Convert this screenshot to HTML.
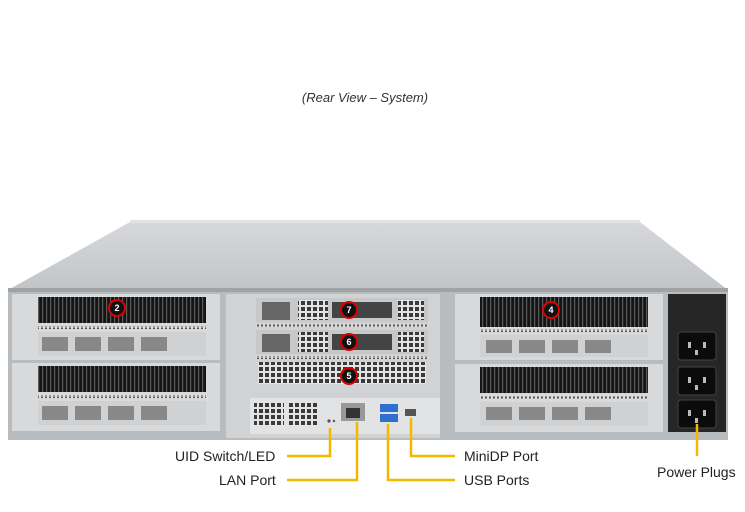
<!DOCTYPE html>
<html><head><style>
html,body{margin:0;padding:0;background:#fff;}
svg{display:block;font-family:"Liberation Sans",sans-serif;}
</style></head><body>
<svg width="745" height="512" viewBox="0 0 745 512">
<defs>
<linearGradient id="top" x1="0" y1="0" x2="0" y2="1"><stop offset="0" stop-color="#d6d8da"/><stop offset="1" stop-color="#c2c5c8"/></linearGradient>
<pattern id="fin" width="4" height="10" patternUnits="userSpaceOnUse"><rect width="4" height="10" fill="#151515"/><rect x="2" width="1.2" height="10" fill="#5a5a5a"/></pattern>
<pattern id="mesh" width="6" height="6" patternUnits="userSpaceOnUse"><rect width="6" height="6" fill="#e4e4e4"/><rect x="1" y="1" width="4" height="4" fill="#3a3a3a"/></pattern>
<pattern id="dots" width="4" height="3" patternUnits="userSpaceOnUse"><rect width="4" height="3" fill="#ddd"/><rect x="1" y="0.5" width="2" height="2" fill="#555"/></pattern>
</defs>
<text x="365" y="102" font-size="13" font-style="italic" fill="#333" text-anchor="middle">(Rear View – System)</text>
<polygon points="130,222 640,222 728,290 8,290" fill="url(#top)"/>
<rect x="130" y="220" width="510" height="3" fill="#e2e2e2"/>
<rect x="8" y="288" width="720" height="4" fill="#a0a3a6"/>
<rect x="8" y="292" width="720" height="148" fill="#b9bcbf"/>
<g>
<rect x="12" y="294" width="208" height="66" fill="#d7d9db"/>
<rect x="38" y="297" width="168" height="26" fill="url(#fin)"/>
<rect x="38" y="326" width="168" height="3" fill="url(#dots)"/>
<rect x="38" y="332" width="168" height="24" fill="#cfd1d3"/>
<rect x="42" y="337" width="26" height="14" fill="#888"/><rect x="75" y="337" width="26" height="14" fill="#888"/><rect x="108" y="337" width="26" height="14" fill="#888"/><rect x="141" y="337" width="26" height="14" fill="#888"/>
<rect x="12" y="363" width="208" height="68" fill="#d7d9db"/>
<rect x="38" y="366" width="168" height="26" fill="url(#fin)"/>
<rect x="38" y="395" width="168" height="3" fill="url(#dots)"/>
<rect x="38" y="401" width="168" height="24" fill="#cfd1d3"/>
<rect x="42" y="406" width="26" height="14" fill="#888"/><rect x="75" y="406" width="26" height="14" fill="#888"/><rect x="108" y="406" width="26" height="14" fill="#888"/><rect x="141" y="406" width="26" height="14" fill="#888"/>
</g>
<rect x="226" y="294" width="214" height="144" fill="#d0d2d4"/>
<rect x="256" y="298" width="172" height="24" fill="#c8c8c8"/>
<rect x="262" y="302" width="28" height="18" fill="#666"/><rect x="298" y="300" width="30" height="20" fill="url(#mesh)"/><rect x="332" y="302" width="60" height="16" fill="#444"/><rect x="398" y="300" width="26" height="20" fill="url(#mesh)"/>
<rect x="256" y="324" width="172" height="3" fill="url(#dots)"/>
<rect x="256" y="330" width="172" height="24" fill="#c8c8c8"/>
<rect x="262" y="334" width="28" height="18" fill="#666"/><rect x="298" y="332" width="30" height="20" fill="url(#mesh)"/><rect x="332" y="334" width="60" height="16" fill="#444"/><rect x="398" y="332" width="26" height="20" fill="url(#mesh)"/>
<rect x="256" y="356" width="172" height="3" fill="url(#dots)"/>
<rect x="258" y="362" width="168" height="22" fill="url(#mesh)"/>
<rect x="250" y="398" width="190" height="36" fill="#e2e3e4"/>
<rect x="254" y="403" width="30" height="24" fill="url(#mesh)"/><rect x="288" y="403" width="30" height="24" fill="url(#mesh)"/>
<rect x="341" y="403" width="24" height="18" fill="#999"/><rect x="346" y="408" width="14" height="10" fill="#333"/>
<rect x="380" y="404" width="18" height="8" fill="#2f6fd0"/><rect x="380" y="414" width="18" height="8" fill="#2f6fd0"/>
<rect x="405" y="409" width="11" height="7" fill="#555"/>
<circle cx="329" cy="421" r="1.6" fill="#555"/><circle cx="334" cy="421" r="1.2" fill="#555"/>
<rect x="455" y="294" width="208" height="66" fill="#d7d9db"/>
<rect x="480" y="297" width="168" height="30" fill="url(#fin)"/>
<rect x="480" y="329" width="168" height="3" fill="url(#dots)"/>
<rect x="480" y="335" width="168" height="22" fill="#cfd1d3"/>
<rect x="486" y="340" width="26" height="13" fill="#888"/><rect x="519" y="340" width="26" height="13" fill="#888"/><rect x="552" y="340" width="26" height="13" fill="#888"/><rect x="585" y="340" width="26" height="13" fill="#888"/>
<rect x="455" y="364" width="208" height="68" fill="#d7d9db"/>
<rect x="480" y="367" width="168" height="26" fill="url(#fin)"/>
<rect x="480" y="396" width="168" height="3" fill="url(#dots)"/>
<rect x="480" y="402" width="168" height="24" fill="#cfd1d3"/>
<rect x="486" y="407" width="26" height="13" fill="#888"/><rect x="519" y="407" width="26" height="13" fill="#888"/><rect x="552" y="407" width="26" height="13" fill="#888"/><rect x="585" y="407" width="26" height="13" fill="#888"/>
<rect x="668" y="294" width="58" height="138" fill="#262626"/>
<rect x="678" y="332" width="38" height="28" rx="3" fill="#0b0b0b" stroke="#444"/>
<rect x="678" y="367" width="38" height="28" rx="3" fill="#0b0b0b" stroke="#444"/>
<rect x="678" y="400" width="38" height="28" rx="3" fill="#0b0b0b" stroke="#444"/>
<g fill="#bbb"><rect x="688" y="342" width="3" height="6"/><rect x="703" y="342" width="3" height="6"/><rect x="695" y="350" width="3" height="5"/>
<rect x="688" y="377" width="3" height="6"/><rect x="703" y="377" width="3" height="6"/><rect x="695" y="385" width="3" height="5"/>
<rect x="688" y="410" width="3" height="6"/><rect x="703" y="410" width="3" height="6"/><rect x="695" y="418" width="3" height="5"/></g>
<g font-size="9" font-weight="bold" fill="#fff" text-anchor="middle">
<circle cx="117" cy="308" r="8" fill="#111" stroke="#d00" stroke-width="2"/><text x="117" y="311">2</text>
<circle cx="551" cy="310" r="8" fill="#111" stroke="#d00" stroke-width="2"/><text x="551" y="313">4</text>
<circle cx="349" cy="310" r="8" fill="#111" stroke="#d00" stroke-width="2"/><text x="349" y="313">7</text>
<circle cx="349" cy="342" r="8" fill="#111" stroke="#d00" stroke-width="2"/><text x="349" y="345">6</text>
<circle cx="349" cy="376" r="8" fill="#111" stroke="#d00" stroke-width="2"/><text x="349" y="379">5</text>
</g>
<g stroke="#f5b800" stroke-width="2.5" fill="none">
<polyline points="287,456 330,456 330,428"/>
<polyline points="287,480 357,480 357,422"/>
<polyline points="455,480 388,480 388,424"/>
<polyline points="455,456 411,456 411,418"/>
<line x1="697" y1="424" x2="697" y2="456"/>
</g>
<g font-size="14" fill="#222">
<text x="175" y="461">UID Switch/LED</text>
<text x="219" y="485">LAN Port</text>
<text x="464" y="461">MiniDP Port</text>
<text x="464" y="485">USB Ports</text>
<text x="657" y="477">Power Plugs</text>
</g>
</svg>
</body></html>
